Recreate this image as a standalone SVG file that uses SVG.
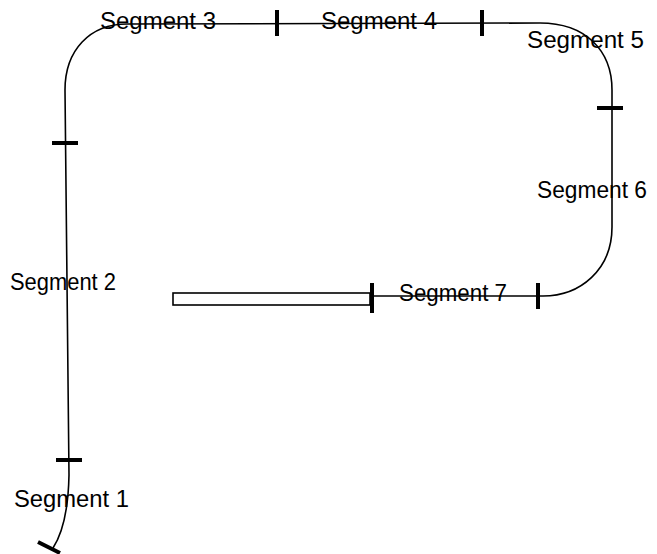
<svg xmlns="http://www.w3.org/2000/svg" width="657" height="554" viewBox="0 0 657 554">
<style>
.track{fill:none;stroke:#000;stroke-width:1.6}
.tick{stroke:#000;stroke-width:4;stroke-linecap:butt}
.lbl{font-family:"Liberation Sans",Arial,sans-serif;font-size:23px;fill:#000}
</style>
<rect width="657" height="554" fill="#fff"/>
<g id="connectors">
<path class="track" d="M 53 548 Q 68 525 69 475 L 65 90 C 65 50 90 24 127 24 L 540 23 C 585 23 612 50 612 90 L 612 227 C 612 270 580 296 543 296 L 372 296"/>
<rect class="track" x="173" y="293" width="197" height="12"/>
</g>
<g id="ticks">
<line class="tick" x1="56" y1="460" x2="82" y2="460"/>
<line class="tick" x1="52" y1="143" x2="78" y2="143"/>
<line class="tick" x1="277" y1="10" x2="277" y2="36"/>
<line class="tick" x1="482" y1="10" x2="482" y2="36"/>
<line class="tick" x1="597" y1="108" x2="623" y2="108"/>
<line class="tick" x1="538" y1="283" x2="538" y2="309"/>
<line class="tick" x1="372" y1="283" x2="372" y2="313"/>
<line class="tick" x1="38" y1="542" x2="60" y2="553"/>
</g>
<g id="seg1"><text class="lbl" x="14" y="507" textLength="115" lengthAdjust="spacingAndGlyphs">Segment 1</text></g>
<g id="seg2"><text class="lbl" x="10" y="290" textLength="106" lengthAdjust="spacingAndGlyphs">Segment 2</text></g>
<g id="seg3"><text class="lbl" x="100" y="29" textLength="116" lengthAdjust="spacingAndGlyphs">Segment 3</text></g>
<g id="seg4"><text class="lbl" x="321" y="29" textLength="116" lengthAdjust="spacingAndGlyphs">Segment 4</text></g>
<g id="seg5"><text class="lbl" x="527" y="48" textLength="117" lengthAdjust="spacingAndGlyphs">Segment 5</text></g>
<g id="seg6"><text class="lbl" x="537" y="198" textLength="110" lengthAdjust="spacingAndGlyphs">Segment 6</text></g>
<g id="seg7"><text class="lbl" x="399" y="301" textLength="108" lengthAdjust="spacingAndGlyphs">Segment 7</text></g>
</svg>
